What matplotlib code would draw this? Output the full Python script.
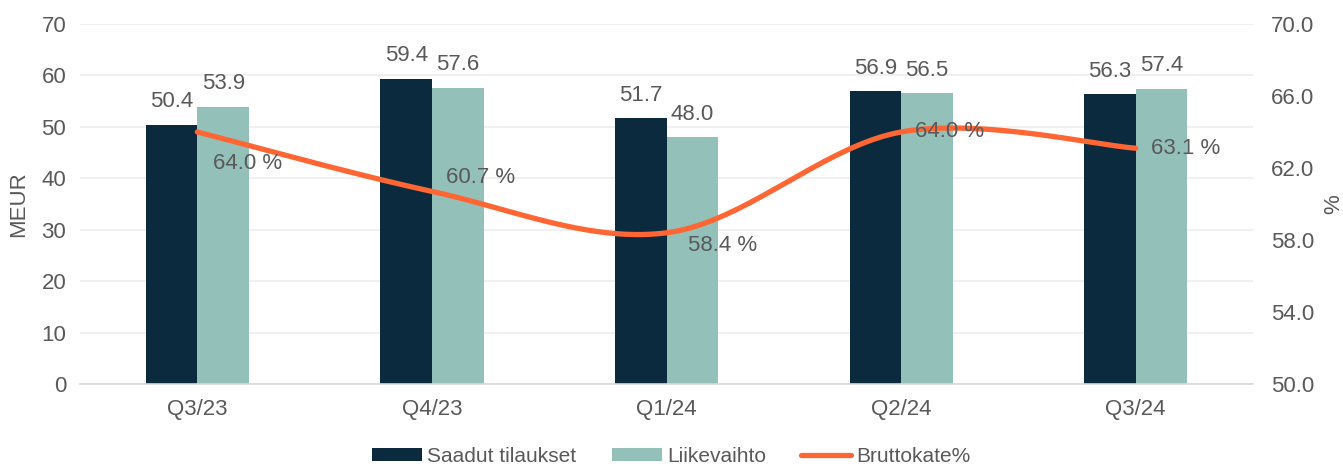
import numpy as np
import matplotlib
matplotlib.use("Agg")
import matplotlib.pyplot as plt
from matplotlib.ticker import FormatStrFormatter

plt.rcParams['font.family'] = ['Liberation Sans', 'DejaVu Sans']

# data
quarters = ["Q3/23", "Q4/23", "Q1/24", "Q2/24", "Q3/24"]
orders = [50.4, 59.4, 51.7, 56.9, 56.3]      # Saadut tilaukset
revenue = [53.9, 57.6, 48.0, 56.5, 57.4]     # Liikevaihto
margin = [64.0, 60.7, 58.4, 64.0, 63.1]      # Bruttokate%

# label offsets for margin labels (points) - layout only
margin_label_offsets = [(36, -23), (35, 10), (40, -9), (35, 0), (36, 0)]

dark = "#0C2A3D"
teal = "#93C1B9"
orange = "#FF6633"
txt = "#595959"
fs = 16


def catmull_rom(x, y, n=40):
    # smooth curve like Excel's smoothed line
    x = np.asarray(x, float)
    y = np.asarray(y, float)
    px = np.concatenate([[x[0]], x, [x[-1]]])
    py = np.concatenate([[y[0]], y, [y[-1]]])
    xs, ys = [], []
    t = np.linspace(0, 1, n)
    for i in range(1, len(px) - 2):
        p0 = np.array([px[i], py[i]])
        p3 = np.array([px[i + 1], py[i + 1]])
        c1 = p0 + (np.array([px[i + 1], py[i + 1]]) - np.array([px[i - 1], py[i - 1]])) / 6
        c2 = p3 - (np.array([px[i + 2], py[i + 2]]) - np.array([px[i], py[i]])) / 6
        b = (np.outer((1 - t) ** 3, p0) + np.outer(3 * (1 - t) ** 2 * t, c1)
             + np.outer(3 * (1 - t) * t ** 2, c2) + np.outer(t ** 3, p3))
        xs.append(b[:, 0])
        ys.append(b[:, 1])
    return np.concatenate(xs), np.concatenate(ys)


fig = plt.figure(figsize=(13.43, 4.66), dpi=100)
ax = fig.add_axes([0.0596, 0.176, 0.8734, 0.7725])
ax2 = ax.twinx()

x = np.arange(len(quarters))
w = 0.22
b1 = ax.bar(x - w / 2, orders, w, color=dark, label="Saadut tilaukset", zorder=2)
b2 = ax.bar(x + w / 2, revenue, w, color=teal, label="Liikevaihto", zorder=2)

for bars, vals in ((b1, orders), (b2, revenue)):
    for r, v in zip(bars, vals):
        ax.annotate(f"{v:.1f}", (r.get_x() + r.get_width() / 2, v),
                    xytext=(0, 9), textcoords="offset points",
                    ha="center", va="bottom", fontsize=fs, color=txt)

ax.set_xlim(-0.5, len(quarters) - 0.5)
ax.set_ylim(0, 70)
ax.set_yticks(range(0, 71, 10))
ax.set_xticks(x)
ax.set_xticklabels(quarters)
ax.set_ylabel("MEUR", fontsize=fs, color=txt)
ax.yaxis.set_label_coords(-0.0435, 0.5)
ax.yaxis.grid(True, color="#EEEEEE", linewidth=1.2, zorder=0)
ax.set_axisbelow(True)

sx, sy = catmull_rom(x, margin)
line, = ax2.plot(sx, sy, color=orange, linewidth=3.8, solid_capstyle="round",
                 label="Bruttokate%", zorder=3)
for xi, v, off in zip(x, margin, margin_label_offsets):
    ax2.annotate(f"{v:.1f} %", (xi, v), xytext=off, textcoords="offset points",
                 ha="center", va="center", fontsize=fs, color=txt)

ax2.set_ylim(50, 70)
ax2.set_yticks(range(50, 71, 4))
ax2.yaxis.set_major_formatter(FormatStrFormatter("%.1f"))
ax2.set_ylabel("%", fontsize=fs, color=txt, va="bottom")
ax2.yaxis.set_label_coords(1.078, 0.5)

for a in (ax, ax2):
    for s in a.spines.values():
        s.set_visible(False)
    a.tick_params(length=0, labelsize=fs, labelcolor=txt)
ax.spines["bottom"].set_visible(True)
ax.spines["bottom"].set_color("#D9D9D9")
ax.spines["bottom"].set_linewidth(1.2)
ax.tick_params(axis="x", pad=11)
ax.tick_params(axis="y", pad=10)
ax2.tick_params(axis="y", pad=13)

fig.legend([b1, b2, line], ["Saadut tilaukset", "Liikevaihto", "Bruttokate%"],
           loc="lower center", bbox_to_anchor=(0.5, -0.04), ncol=3, frameon=False,
           fontsize=15, labelcolor=txt, handlelength=2.4, handleheight=0.55,
           handletextpad=0.25, columnspacing=1.7)

fig.savefig("out.png", dpi=100)
